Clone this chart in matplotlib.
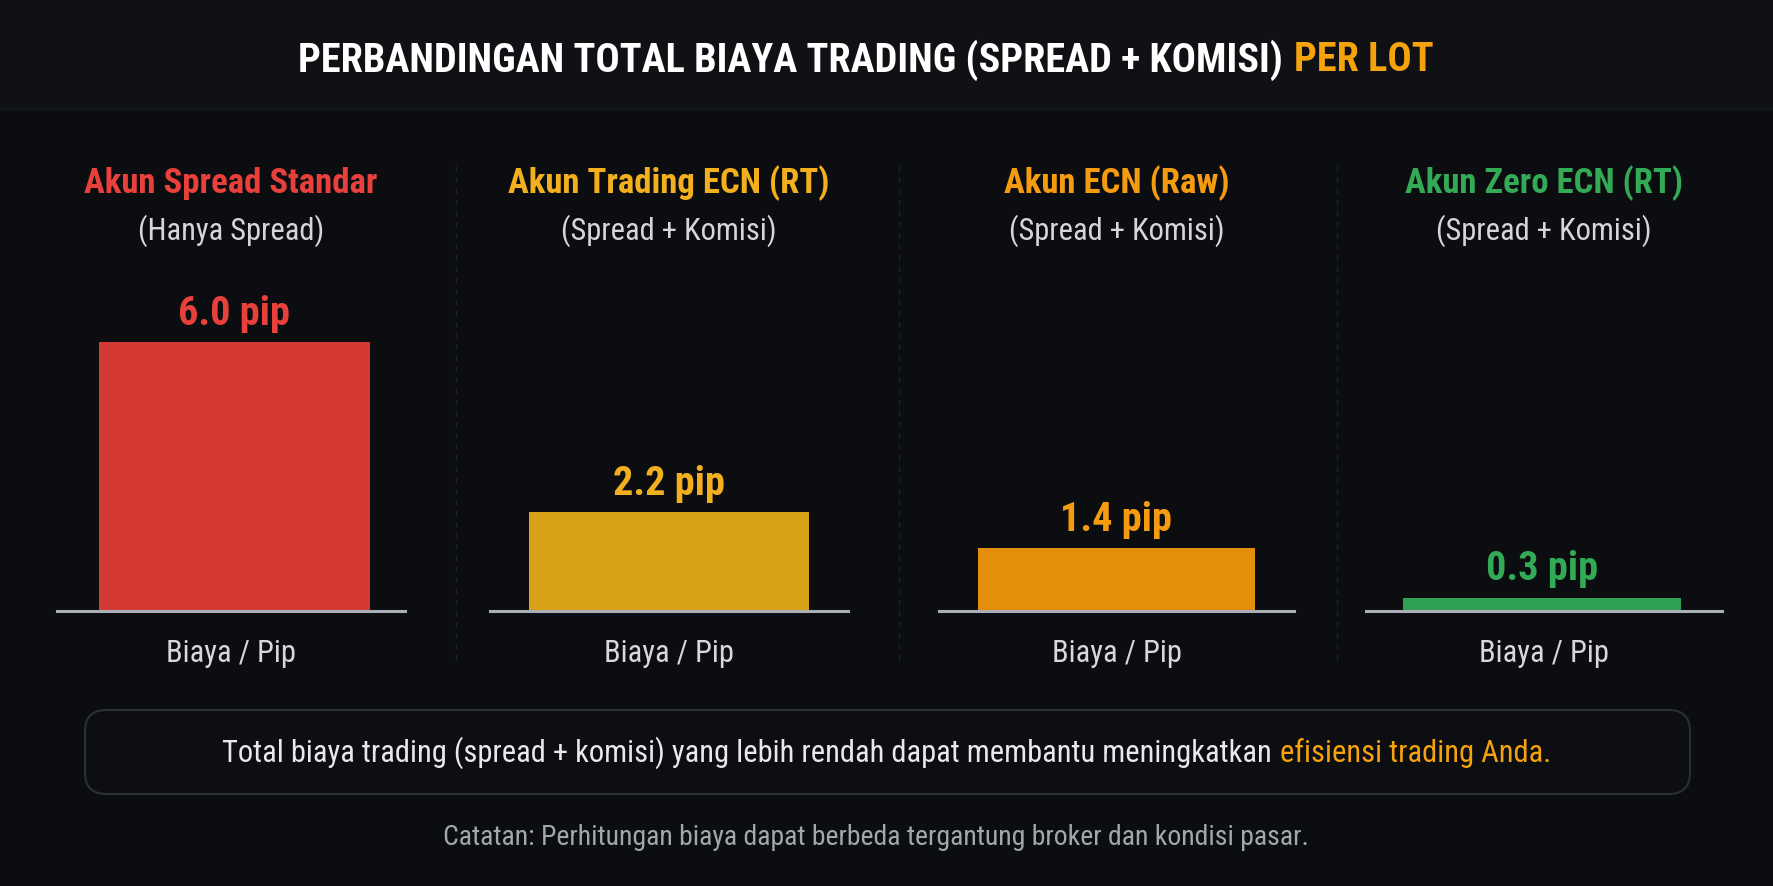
import matplotlib
matplotlib.use("Agg")
import matplotlib.pyplot as plt
from matplotlib import font_manager as fm
from matplotlib.patches import Rectangle, FancyBboxPatch
from matplotlib.lines import Line2D

# ---------------- data ----------------
accounts = ['Akun Spread Standar', 'Akun Trading ECN (RT)', 'Akun ECN (Raw)', 'Akun Zero ECN (RT)']
subtitles = ['(Hanya Spread)', '(Spread + Komisi)', '(Spread + Komisi)', '(Spread + Komisi)']
costs = [6.0, 2.2, 1.4, 0.3]
value_unit = 'pip'
xlabel = 'Biaya / Pip'
title_main = 'PERBANDINGAN TOTAL BIAYA TRADING (SPREAD + KOMISI)'
title_accent = 'PER LOT'
box_main = 'Total biaya trading (spread + komisi) yang lebih rendah dapat membantu meningkatkan'
box_accent = 'efisiensi trading Anda.'
note = 'Catatan: Perhitungan biaya dapat berbeda tergantung broker dan kondisi pasar.'

# ---------------- style ----------------
bar_colors = ['#d43a33', '#d9a216', '#e58e0b', '#30a052']
text_colors = ['#e8403a', '#f2b01e', '#f59b10', '#33aa55']
BG = '#0b0d10'
HEADER = '#0f1114'
ORANGE = '#f5a20c'

# font detection
ents = fm.fontManager.ttflist
names = {f.name for f in ents}
FAM, STRETCH = None, 'normal'
for cand in ['Roboto Condensed', 'Liberation Sans Narrow', 'Open Sans Condensed',
             'Noto Sans Condensed', 'Arial Narrow']:
    if cand in names:
        FAM = cand
        break
if FAM is None:
    for f in ents:
        if f.stretch in ('condensed', 'semi-condensed', 'extra-condensed') or \
                'Condensed' in f.name or 'Narrow' in f.name:
            FAM, STRETCH = f.name, f.stretch
            break
if FAM is None:
    FAM = 'Roboto'
plt.rcParams['font.family'] = [FAM, 'DejaVu Sans']

W, H = 1774, 887
fig = plt.figure(figsize=(W / 100, H / 100), dpi=100, facecolor=BG)
renderer = fig.canvas.get_renderer()


def fx(px):
    return px / W


def fy(py):
    return 1 - py / H


def txt(x, y, s, size, color, weight='normal', target=None, **kw):
    t = fig.text(fx(x), fy(y), s, fontsize=size, color=color, weight=weight,
                 ha='center', va='center', fontstretch=STRETCH, **kw)
    if target:
        w = t.get_window_extent(renderer).width
        if w > target:
            t.set_fontsize(size * target / w)
    return t


def multi(xc, y, segs, size, weight='normal', target=None):
    def build(sz):
        ts = []
        for s, c in segs:
            ts.append(fig.text(0, fy(y), s, fontsize=sz, color=c, weight=weight,
                               ha='left', va='center', fontstretch=STRETCH))
        ws = [t.get_window_extent(renderer).width for t in ts]
        return ts, ws
    ts, ws = build(size)
    gap = size * 100 / 72 * 0.27
    total = sum(ws) + gap * (len(ws) - 1)
    if target and total > target:
        for t in ts:
            t.remove()
        size = size * target / total
        ts, ws = build(size)
        gap = size * 100 / 72 * 0.27
        total = sum(ws) + gap * (len(ws) - 1)
    x = xc - total / 2
    for t, w in zip(ts, ws):
        t.set_x(fx(x))
        x += w + gap
    return ts


# background header band
fig.patches.append(Rectangle((0, fy(110)), 1, 110 / H, transform=fig.transFigure,
                             facecolor=HEADER, edgecolor='none', zorder=0))
fig.lines.append(Line2D([0, 1], [fy(110), fy(110)], transform=fig.transFigure,
                        color='#15181c', lw=1))

# title
multi(866, 60, [(title_main, '#ffffff'), (title_accent, ORANGE)], 29, weight='bold', target=1134)

# panels
line_left = [57, 490, 939, 1366]
line_w = [348, 358, 355, 356]
bar_shift = [0.01, 0.0, 0.0, -0.005]
base_y = 612
top_y = 343
title_targets = [300, 323, 235, 286]
sub_targets = [188, 220, 220, 220]

for i in range(4):
    ax = fig.add_axes([fx(line_left[i]), fy(base_y), fx(line_w[i]), (base_y - top_y) / H])
    ax.set_xlim(-0.5, 0.5)
    ax.set_ylim(0, max(costs))
    ax.set_axis_off()
    ax.bar([bar_shift[i]], [costs[i]], width=0.78, color=bar_colors[i], zorder=2)
    ax.axhline(0, color='#a9afb5', lw=2.2, zorder=3, clip_on=False)
    ax.annotate(f'{costs[i]:.1f} {value_unit}', xy=(bar_shift[i], costs[i]), xytext=(0, 13),
                textcoords='offset points', ha='center', va='baseline',
                fontsize=29, weight='bold', color=text_colors[i], fontstretch=STRETCH,
                annotation_clip=False)
    cx = line_left[i] + line_w[i] / 2
    txt(cx, 183, accounts[i], 25, text_colors[i], weight='bold', target=title_targets[i])
    txt(cx, 231, subtitles[i], 22, '#d4d6d9', target=sub_targets[i])
    txt(cx, 654, xlabel, 22, '#d6d8db', target=140)

# dashed dividers
for xd in [456, 899, 1337]:
    fig.lines.append(Line2D([fx(xd), fx(xd)], [fy(167), fy(667)], transform=fig.transFigure,
                            color='#1e2226', lw=1, ls=(0, (4, 4))))

# bottom box
fig.patches.append(FancyBboxPatch((fx(85), fy(795)), fx(1605), (795 - 711) / H,
                                  boxstyle='round,pad=0,rounding_size=0.012',
                                  transform=fig.transFigure, facecolor='#0c0e11',
                                  edgecolor='#2c2f34', lw=1.5, mutation_aspect=2.0))
multi(887, 753, [(box_main, '#e8e9eb'), (box_accent, ORANGE)], 22, target=1335)
txt(876, 838, note, 20, '#a3a6aa', target=870)

fig.savefig('out.png', dpi=100, facecolor=BG)
